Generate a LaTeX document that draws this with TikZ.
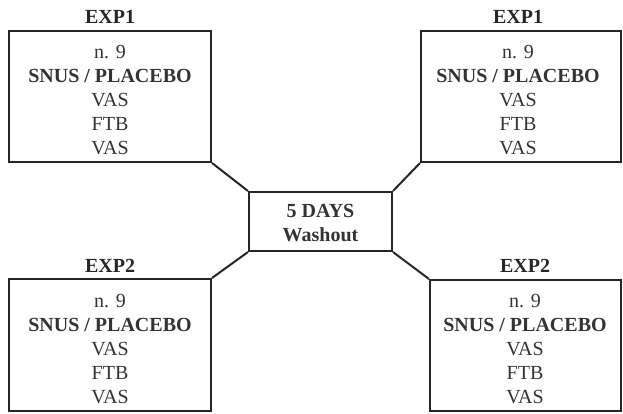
\documentclass[tikz,border=0pt]{standalone}
\usepackage{fontspec}
\setmainfont{Liberation Serif}
\begin{document}
\begin{tikzpicture}[x=1pt,y=-1pt,
  frame/.style={draw=black!85, line width=2pt, inner sep=0pt, minimum width=#1},
  content/.style={align=center, font=\fontsize{20}{24}\selectfont, text=black!80, inner sep=0pt},
  heading/.style={font=\fontsize{20}{24}\selectfont\bfseries, text=black!85, anchor=base, inner sep=0pt},
  link/.style={draw=black!85, line width=2pt}]
\useasboundingbox (0,0) rectangle (623,413);
% boxes
\node[frame=202pt, minimum height=131pt] (tl) at (110,96.5) {};
\node[frame=200pt, minimum height=131pt] (tr) at (521,96.5) {};
\node[frame=202pt, minimum height=132pt] (bl) at (110,345) {};
\node[frame=191pt, minimum height=131pt] (br) at (525.5,345.5) {};
\node[frame=143pt, minimum height=59pt] (c) at (320.5,221.5) {};
% headings
\node[heading] (tlh) at (110,23) {EXP1};
\node[heading] (trh) at (518,23) {EXP1};
\node[heading] (blh) at (110,272) {EXP2};
\node[heading] (brh) at (525,272) {EXP2};
% contents
\newcommand{\boxtext}{n. 9\\\textbf{SNUS / PLACEBO}\\VAS\\FTB\\VAS}
\node[content] (tlt) at (110,100) {\boxtext};
\node[content] (trt) at (518,100) {\boxtext};
\node[content] (blt) at (110,349) {\boxtext};
\node[content] (brt) at (525,349) {\boxtext};
\node[content, font=\fontsize{20}{24}\selectfont\bfseries] (ct) at (320.5,223) {5 DAYS\\Washout};
% connectors
\draw[link] (tl.south east) -- (c.north west);
\draw[link] (tr.south west) -- (c.north east);
\draw[link] (bl.north east) -- (c.south west);
\draw[link] (br.north west) -- (c.south east);
\end{tikzpicture}
\end{document}
